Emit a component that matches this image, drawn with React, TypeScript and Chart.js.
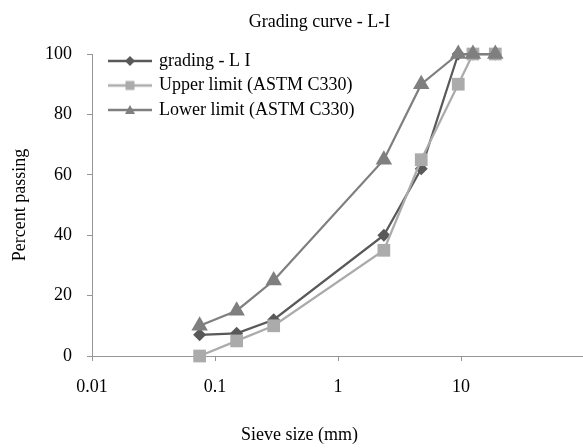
import React, { useEffect, useRef } from 'react';
import { Chart, registerables } from 'chart.js';

Chart.register(...registerables);

const chartTitle = 'Grading curve - L-I';
const xAxisTitle = 'Sieve size (mm)';
const yAxisTitle = 'Percent passing';

const sieveSizes = [0.075, 0.15, 0.3, 2.36, 4.75, 9.5, 12.5, 19];
const gradingLI = [7, 7.5, 12, 40, 62, 100, 100, 100];
const upperLimit = [0, 5, 10, 35, 65, 90, 100, 100];
const lowerLimit = [10, 15, 25, 65, 90, 100, 100, 100];

const seriesNames = ['grading - L I', 'Upper limit (ASTM C330)', 'Lower limit (ASTM C330)'];
const seriesColors = ['#595959', '#ababab', '#7f7f7f'];
const seriesMarkers = ['rectRot', 'rect', 'triangle'];

const xTickValues = [0.01, 0.1, 1, 10];
const xTickLabels = ['0.01', '0.1', '1', '10'];
const yTickValues = [0, 20, 40, 60, 80, 100];

const FONT = 'Liberation Serif';
const AXIS_COLOR = '#969696';

function makeIcon(color: string, marker: string): HTMLCanvasElement {
  const c = document.createElement('canvas');
  c.width = 44;
  c.height = 14;
  const g = c.getContext('2d')!;
  g.strokeStyle = color;
  g.lineWidth = 2.5;
  g.beginPath();
  g.moveTo(0, 7);
  g.lineTo(44, 7);
  g.stroke();
  g.fillStyle = color;
  g.beginPath();
  if (marker === 'rectRot') {
    g.moveTo(22, 2);
    g.lineTo(27, 7);
    g.lineTo(22, 12);
    g.lineTo(17, 7);
  } else if (marker === 'rect') {
    g.rect(17.5, 2.5, 9, 9);
  } else {
    g.moveTo(22, 2);
    g.lineTo(27, 11);
    g.lineTo(17, 11);
  }
  g.closePath();
  g.fill();
  return c;
}

const layoutTweak = {
  id: 'layoutTweak',
  afterLayout(chart: any) {
    const ca = chart.chartArea;
    // extend the log axis to the right edge of the picture (the 100 end sits at the edge)
    const xs = chart.scales.x;
    const targetRight = chart.width + 1;
    if (xs) {
      xs.right = targetRight;
      xs.width = xs.right - xs.left;
      xs.configure();
    }
    ca.right = targetRight;
    ca.width = ca.right - ca.left;

    const lg = chart.legend;
    if (lg) {
      lg.left = ca.left + 11.5;
      lg.top = ca.top - 8.5;
      lg.right = ca.right;
      lg.bottom = ca.bottom;
    }
    chart.boxes.forEach((b: any) => {
      if (b && b.options && b.options.text === chartTitle) {
        const shift = 319.5 - (b.left + b.right) / 2;
        b.left += shift;
        b.right += shift;
      } else if (b && b.options && b.options.text === xAxisTitle) {
        const shift = 299.5 - (b.left + b.right) / 2;
        b.left += shift;
        b.right += shift;
      }
    });
  },
};

export default function App() {
  const ref = useRef<HTMLCanvasElement>(null);

  useEffect(() => {
    if (!ref.current) return;
    const seriesValues = [gradingLI, upperLimit, lowerLimit];
    const radii = [6.5, 9, 9.5];
    const orders = [3, 2, 1];
    const datasets = seriesValues.map((vals, i) => ({
      label: seriesNames[i],
      data: sieveSizes.map((x, j) => ({ x, y: vals[j] })),
      borderColor: seriesColors[i],
      backgroundColor: seriesColors[i],
      pointBackgroundColor: seriesColors[i],
      pointBorderColor: seriesColors[i],
      pointBorderWidth: 0,
      pointStyle: seriesMarkers[i],
      pointRadius: radii[i],
      borderWidth: 2.25,
      tension: 0,
      clip: false,
      order: orders[i],
    }));
    const icons = seriesNames.map((_, i) => makeIcon(seriesColors[i], seriesMarkers[i]));

    const chart = new Chart(ref.current, {
      type: 'line',
      data: { datasets: datasets as any },
      plugins: [layoutTweak],
      options: {
        animation: false,
        responsive: false,
        devicePixelRatio: 1,
        layout: { padding: { left: 0, right: 0, top: 0, bottom: 0 } },
        font: { family: FONT },
        plugins: {
          title: {
            display: true,
            text: chartTitle,
            color: '#000',
            font: { family: FONT, size: 18, weight: 'normal' },
            padding: { top: 11.2, bottom: 21.2 },
          },
          subtitle: {
            display: true,
            position: 'bottom',
            text: xAxisTitle,
            color: '#000',
            font: { family: FONT, size: 18, weight: 'normal' },
            padding: { top: 11.2, bottom: 2.2 },
          },
          legend: {
            display: true,
            position: 'chartArea',
            align: 'start',
            labels: {
              usePointStyle: true,
              pointStyleWidth: 40,
              padding: 6.5,
              color: '#000',
              font: { family: FONT, size: 18 },
              generateLabels: () =>
                seriesNames.map((name, i) => ({
                  text: name,
                  pointStyle: icons[i],
                  fillStyle: seriesColors[i],
                  strokeStyle: seriesColors[i],
                  lineWidth: 0,
                  hidden: false,
                  datasetIndex: i,
                  fontColor: '#000',
                })),
            },
          },
          tooltip: { enabled: false },
        },
        scales: {
          x: {
            type: 'logarithmic',
            min: 0.01,
            max: 100,
            afterBuildTicks: (scale: any) => {
              scale.ticks = xTickValues.map((v) => ({ value: v }));
            },
            ticks: {
              autoSkip: false,
              maxRotation: 0,
              padding: 15.2,
              color: '#000',
              font: { family: FONT, size: 18 },
              callback: (val: any) => {
                const idx = xTickValues.indexOf(Number(val));
                return idx >= 0 ? xTickLabels[idx] : '';
              },
            },
            grid: { drawOnChartArea: false, drawTicks: true, tickLength: 5, color: AXIS_COLOR },
            border: { color: AXIS_COLOR, width: 1 },
          },
          y: {
            type: 'linear',
            min: 0,
            max: 100,
            afterBuildTicks: (scale: any) => {
              scale.ticks = yTickValues.map((v) => ({ value: v }));
            },
            ticks: {
              padding: 15,
              color: '#000',
              font: { family: FONT, size: 18 },
            },
            title: {
              display: true,
              text: yAxisTitle,
              color: '#000',
              font: { family: FONT, size: 18 },
              padding: { top: 9.2, bottom: -0.8 },
            },
            grid: { drawOnChartArea: false, drawTicks: true, tickLength: 5, color: AXIS_COLOR },
            border: { color: AXIS_COLOR, width: 1 },
          },
        },
      } as any,
    });
    return () => chart.destroy();
  }, []);

  return (
    <div style={{ position: 'absolute', left: 0, top: 0, width: 583, height: 448, background: '#fff' }}>
      <canvas ref={ref} width={583} height={448} style={{ display: 'block' }} />
    </div>
  );
}
